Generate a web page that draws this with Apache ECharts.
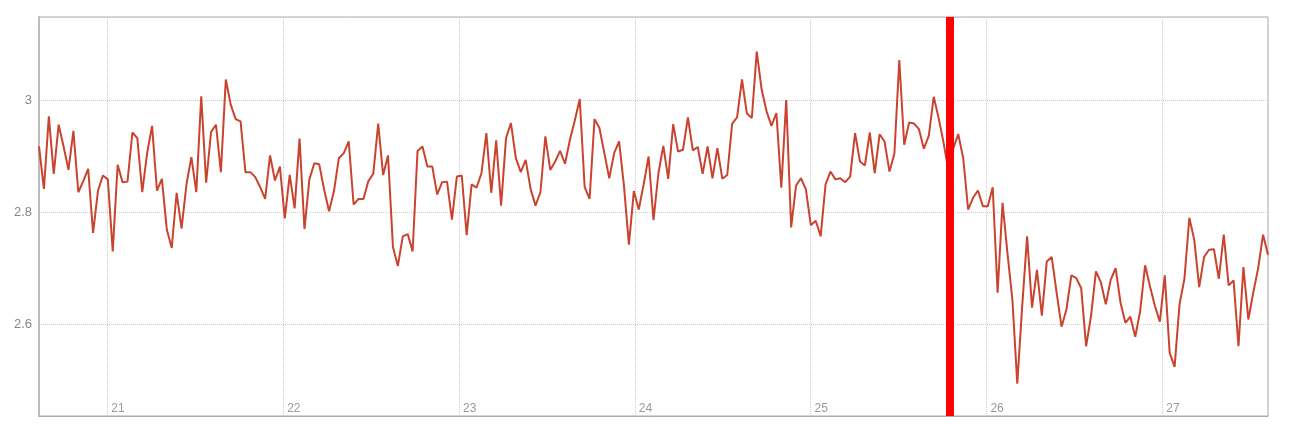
<!DOCTYPE html>
<html>
<head>
<meta charset="utf-8">
<script src="https://cdn.jsdelivr.net/npm/echarts@6/dist/echarts.min.js"></script>
<style>
  html, body { margin: 0; padding: 0; background: #fff; }
  #chart { width: 1295px; height: 444px; }
</style>
</head>
<body>
<div id="chart"></div>
<script>
// time axis in days of the month; one reading every ~40 minutes
const startDay = 20.6115;
const stepDay = 0.02796;
const markerDay = 25.787;
const dayTicks = [21, 22, 23, 24, 25, 26, 27];

const readings = [
  2.918, 2.842, 2.972, 2.869, 2.957, 2.918, 2.876, 2.946, 2.836, 2.856,
  2.878, 2.763, 2.839, 2.866, 2.859, 2.730, 2.885, 2.854, 2.855, 2.943,
  2.933, 2.836, 2.906, 2.955, 2.839, 2.860, 2.769, 2.736, 2.835, 2.771,
  2.850, 2.899, 2.836, 3.008, 2.853, 2.944, 2.957, 2.872, 3.038, 2.993,
  2.967, 2.963, 2.872, 2.872, 2.863, 2.845, 2.824, 2.902, 2.857, 2.882,
  2.789, 2.867, 2.807, 2.932, 2.770, 2.859, 2.888, 2.886, 2.841, 2.802,
  2.838, 2.897, 2.906, 2.927, 2.814, 2.824, 2.824, 2.856, 2.869, 2.959,
  2.867, 2.902, 2.738, 2.704, 2.757, 2.761, 2.730, 2.910, 2.918, 2.882,
  2.882, 2.832, 2.854, 2.855, 2.787, 2.864, 2.866, 2.759, 2.850, 2.844,
  2.870, 2.942, 2.835, 2.929, 2.812, 2.933, 2.960, 2.897, 2.872, 2.894,
  2.842, 2.812, 2.836, 2.936, 2.876, 2.891, 2.910, 2.887, 2.930, 2.965,
  3.003, 2.845, 2.824, 2.967, 2.951, 2.906, 2.861, 2.906, 2.927, 2.847,
  2.742, 2.838, 2.805, 2.850, 2.900,
  2.786, 2.870, 2.919, 2.860, 2.958, 2.909, 2.912, 2.970, 2.911, 2.917,
  2.869, 2.918, 2.861, 2.915, 2.860, 2.867, 2.959, 2.970, 3.038, 2.977,
  2.969, 3.088, 3.020, 2.981, 2.955, 2.978, 2.844, 3.001, 2.773, 2.848,
  2.861, 2.841, 2.777, 2.785, 2.757, 2.850, 2.873, 2.859, 2.861, 2.854,
  2.864, 2.942, 2.891, 2.884, 2.943, 2.870, 2.940, 2.927, 2.873, 2.905,
  3.073, 2.921, 2.961, 2.959, 2.949, 2.914, 2.937, 3.007, 2.969, 2.925,
  2.875, 2.915, 2.940, 2.897,
  2.805, 2.826, 2.839, 2.811, 2.811, 2.845, 2.656, 2.817, 2.727, 2.644,
  2.493, 2.632, 2.757, 2.629, 2.697, 2.615, 2.712, 2.720, 2.656, 2.595,
  2.626, 2.687, 2.682, 2.664, 2.560, 2.614, 2.694, 2.675, 2.635, 2.679,
  2.700, 2.638, 2.602, 2.613, 2.577, 2.623, 2.705, 2.667, 2.632, 2.604,
  2.687, 2.548, 2.523, 2.635, 2.681, 2.790, 2.751, 2.666, 2.720, 2.733,
  2.734, 2.681, 2.760, 2.669, 2.678, 2.560, 2.702, 2.608, 2.656, 2.700,
  2.760, 2.724
];

const points = readings.map((v, i) => [startDay + i * stepDay, v]);
const endDay = startDay + (readings.length - 1) * stepDay;

const chart = echarts.init(document.getElementById('chart'), null, { renderer: 'canvas' });

chart.setOption({
  animation: false,
  backgroundColor: '#fff',
  grid: {
    left: 39,
    right: 27,
    top: 17,
    bottom: 28,
    show: true,
    borderColor: '#aaa',
    borderWidth: 1,
    outerBoundsMode: 'none'
  },
  xAxis: {
    type: 'value',
    min: startDay,
    max: endDay,
    splitNumber: 7,
    minInterval: 1,
    maxInterval: 1,
    axisLine: { show: true, lineStyle: { color: '#aaa', width: 1 } },
    axisTick: { show: false },
    axisLabel: {
      inside: true,
      showMinLabel: false,
      showMaxLabel: false,
      align: 'left',
      margin: 1,
      padding: [0, 0, 0, 4],
      color: '#999',
      fontSize: 12,
      fontFamily: 'Liberation Sans, Arial, sans-serif',
      formatter: (v) => (dayTicks.indexOf(v) >= 0 ? String(v) : '')
    },
    splitLine: { show: true, lineStyle: { color: '#ccc', type: 'dotted', width: 1 } }
  },
  yAxis: {
    type: 'value',
    min: 2.435,
    max: 3.15,
    splitNumber: 3,
    minInterval: 0.2,
    maxInterval: 0.2,
    axisLine: { show: true, lineStyle: { color: '#bbb', width: 2 } },
    axisTick: { show: false },
    axisLabel: {
      showMinLabel: false,
      showMaxLabel: false,
      margin: 7,
      color: '#888',
      fontSize: 13,
      fontFamily: 'Liberation Sans, Arial, sans-serif'
    },
    splitLine: { show: true, lineStyle: { color: '#ccc', type: 'dotted', width: 1 } }
  },
  series: [{
    type: 'line',
    data: points,
    showSymbol: false,
    symbol: 'none',
    lineStyle: { color: '#c9432f', width: 2 },
    itemStyle: { color: '#c9432f' },
    markLine: {
      silent: true,
      symbol: ['none', 'none'],
      label: { show: false },
      lineStyle: { color: '#ff0000', width: 8, type: 'solid' },
      data: [{ xAxis: markerDay }]
    }
  }]
});
</script>
</body>
</html>
